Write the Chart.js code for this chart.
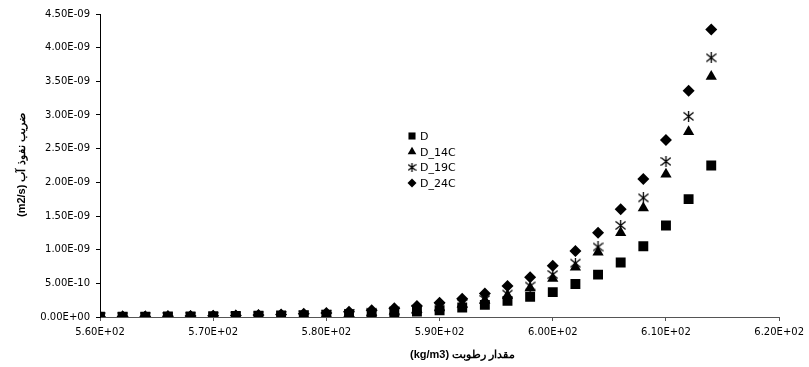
<!DOCTYPE html>
<html>
<head>
<meta charset="utf-8">
<script src="https://cdn.jsdelivr.net/npm/chart.js@4/dist/chart.umd.min.js"></script>
<style>
  html, body { margin: 0; padding: 0; background: #fff; }
  #wrap { width: 809px; height: 367px; }
</style>
</head>
<body>
<div id="wrap"><canvas id="myChart"></canvas></div>
<script>
// moisture content (kg/m3)
var moisture = [560, 562, 564, 566, 568, 570, 572, 574, 576, 578, 580, 582, 584, 586,
  588, 590, 592, 594, 596, 598, 600, 602, 604, 606, 608, 610, 612, 614];

// diffusion coefficient, in units of 1e-9 m2/s
var dRef = [0.004, 0.005, 0.006, 0.008, 0.010, 0.012, 0.015, 0.018, 0.022, 0.027, 0.033, 0.040, 0.050, 0.063,
  0.080, 0.10, 0.14, 0.18, 0.24, 0.30, 0.37, 0.49, 0.63, 0.81, 1.05, 1.36, 1.75, 2.25];
var d14 = [0.003, 0.004, 0.005, 0.006, 0.008, 0.010, 0.013, 0.017, 0.022, 0.029, 0.038, 0.050, 0.065, 0.085,
  0.11, 0.14, 0.19, 0.25, 0.32, 0.43, 0.57, 0.74, 0.96, 1.25, 1.62, 2.12, 2.75, 3.57];
var d19 = [0.003, 0.004, 0.005, 0.006, 0.008, 0.011, 0.014, 0.018, 0.024, 0.031, 0.040, 0.053, 0.070, 0.090,
  0.115, 0.15, 0.20, 0.26, 0.34, 0.46, 0.63, 0.80, 1.04, 1.36, 1.77, 2.31, 2.98, 3.85];
var d24 = [0.005, 0.007, 0.009, 0.011, 0.014, 0.018, 0.023, 0.029, 0.037, 0.048, 0.061, 0.078, 0.10, 0.13,
  0.165, 0.21, 0.27, 0.35, 0.46, 0.59, 0.76, 0.98, 1.25, 1.60, 2.05, 2.63, 3.36, 4.27];

var seriesNames = ['D', 'D_14C', 'D_19C', 'D_24C'];

var xTickValues = [560, 570, 580, 590, 600, 610, 620];
var xTickLabels = ['5.60E+02', '5.70E+02', '5.80E+02', '5.90E+02', '6.00E+02', '6.10E+02', '6.20E+02'];
var yTickValues = [0, 0.5e-9, 1e-9, 1.5e-9, 2e-9, 2.5e-9, 3e-9, 3.5e-9, 4e-9, 4.5e-9];
var yTickLabels = ['0.00E+00', '5.00E-10', '1.00E-09', '1.50E-09', '2.00E-09', '2.50E-09',
  '3.00E-09', '3.50E-09', '4.00E-09', '4.50E-09'];

var xTitle = '(kg/m3) مقدار رطوبت';
var yTitle = '(m2/s) ضریب نفوذ آب';

var TICK_FONT = '"DejaVu Sans", Verdana, sans-serif';
var TITLE_FONT = '"Liberation Sans", Arial, sans-serif';

function toPoints(vals) {
  return moisture.map(function (m, i) { return { x: m, y: vals[i] * 1e-9 }; });
}

// six-armed asterisk marker like the spreadsheet one
function makeAsterisk(size) {
  var c = document.createElement('canvas');
  c.width = size; c.height = size;
  var g = c.getContext('2d');
  var h = size / 2;
  g.strokeStyle = '#000';
  g.lineWidth = 1.3;
  g.beginPath();
  g.moveTo(h, 0); g.lineTo(h, size);
  g.moveTo(0.5, 1.5); g.lineTo(size - 0.5, size - 1.5);
  g.moveTo(0.5, size - 1.5); g.lineTo(size - 0.5, 1.5);
  g.stroke();
  return c;
}
var starBig = makeAsterisk(11);
var starSmall = makeAsterisk(9);

var styles = [
  { pointStyle: 'rect', radius: 7, legendStyle: 'rect', legendRadius: 5 },
  { pointStyle: 'triangle', radius: 6.5, legendStyle: 'triangle', legendRadius: 5 },
  { pointStyle: starBig, radius: 6, legendStyle: starSmall, legendRadius: 4.5 },
  { pointStyle: 'rectRot', radius: 6, legendStyle: 'rectRot', legendRadius: 4.5 }
];

var allSeries = [dRef, d14, d19, d24];

var datasets = allSeries.map(function (vals, i) {
  return {
    label: seriesNames[i],
    data: toPoints(vals),
    pointStyle: styles[i].pointStyle,
    pointRadius: styles[i].radius,
    pointHoverRadius: styles[i].radius,
    backgroundColor: '#000',
    borderColor: '#000',
    borderWidth: 0,
    showLine: false
  };
});

// legend sitting inside the plot, like the original
var boxLegend = {
  id: 'boxLegend',
  afterDraw: function (chart) {
    var ctx = chart.ctx;
    ctx.save();
    ctx.font = '11px ' + TICK_FONT;
    ctx.textBaseline = 'middle';
    ctx.fillStyle = '#000';
    ctx.strokeStyle = '#000';
    ctx.lineWidth = 0;
    seriesNames.forEach(function (name, i) {
      var y = 136 + i * 15.7;
      Chart.helpers.drawPoint(ctx, {
        pointStyle: styles[i].legendStyle,
        radius: styles[i].legendRadius,
        rotation: 0,
        borderWidth: 0
      }, 412, y);
      ctx.fillStyle = '#000';
      ctx.fillText(name, 420, y + 1);
    });
    ctx.restore();
  }
};

// axis titles placed where the original had them
var axisTitles = {
  id: 'axisTitles',
  afterDraw: function (chart) {
    var ctx = chart.ctx;
    ctx.save();
    ctx.font = 'bold 11px ' + TITLE_FONT;
    ctx.fillStyle = '#000';
    ctx.textBaseline = 'middle';
    ctx.textAlign = 'left';
    ctx.fillText(xTitle, 410, 355);
    ctx.translate(22, 217);
    ctx.rotate(-Math.PI / 2);
    ctx.fillText(yTitle, 0, 0);
    ctx.restore();
  }
};

var ctx = document.getElementById('myChart');

var myChart = new Chart(ctx, {
  type: 'scatter',
  data: { datasets: datasets },
  plugins: [boxLegend, axisTitles],
  options: {
    responsive: true,
    maintainAspectRatio: false,
    animation: false,
    layout: { padding: { top: 14, right: 28, bottom: 0, left: 0 } },
    plugins: {
      legend: { display: false },
      tooltip: { enabled: false }
    },
    scales: {
      x: {
        type: 'linear',
        min: 560,
        max: 620,
        afterBuildTicks: function (scale) {
          scale.ticks = xTickValues.map(function (v) { return { value: v }; });
        },
        afterFit: function (scale) { scale.height = 50; },
        grid: { drawOnChartArea: false, drawTicks: true, tickLength: 4, color: '#555' },
        border: { display: true, color: '#555', width: 1 },
        ticks: {
          maxRotation: 0,
          autoSkip: false,
          padding: 5,
          color: '#000',
          font: { family: TICK_FONT, size: 10 },
          callback: function (v, i) { return xTickLabels[i]; }
        }
      },
      y: {
        type: 'linear',
        min: 0,
        max: 4.5e-9,
        afterBuildTicks: function (scale) {
          scale.ticks = yTickValues.map(function (v) { return { value: v }; });
        },
        afterFit: function (scale) { scale.width = 100; },
        grid: { drawOnChartArea: false, drawTicks: true, tickLength: 4, color: '#000' },
        border: { display: true, color: '#000', width: 1 },
        ticks: {
          padding: 6,
          autoSkip: false,
          color: '#000',
          font: { family: TICK_FONT, size: 10 },
          callback: function (v, i) { return yTickLabels[i]; }
        }
      }
    }
  }
});
</script>
</body>
</html>
